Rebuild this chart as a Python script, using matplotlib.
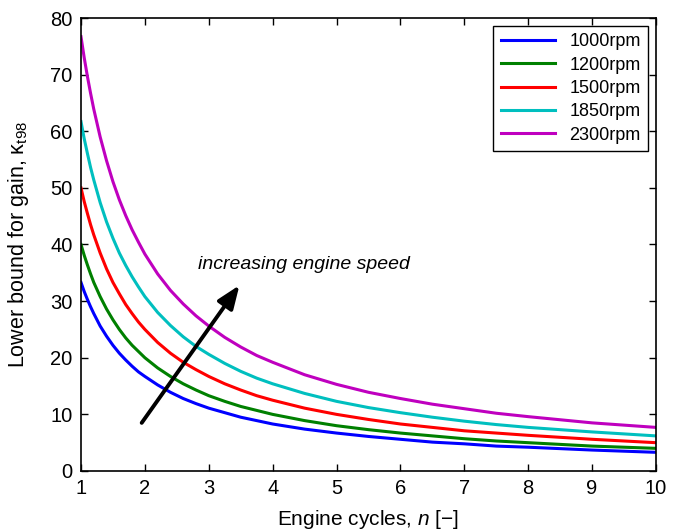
import numpy as np
import matplotlib
matplotlib.use("Agg")
import matplotlib.pyplot as plt

plt.rcParams['font.family'] = ['Liberation Sans', 'DejaVu Sans']
plt.rcParams['mathtext.fontset'] = 'custom'
plt.rcParams['mathtext.rm'] = 'Liberation Sans'
plt.rcParams['mathtext.it'] = 'Liberation Sans:italic'

# engine cycles n
n = [1, 1.05, 1.1, 1.15, 1.2, 1.3, 1.4, 1.5, 1.6, 1.7, 1.8, 1.9, 2, 2.2, 2.4,
     2.6, 2.8, 3, 3.25, 3.5, 3.75, 4, 4.5, 5, 5.5, 6, 6.5, 7, 7.5, 8, 9, 10]
k1000 = [33.3, 31.7, 30.3, 29.0, 27.8, 25.6, 23.8, 22.2, 20.8, 19.6, 18.5, 17.5,
         16.7, 15.2, 13.9, 12.8, 11.9, 11.1, 10.3, 9.5, 8.9, 8.3, 7.4, 6.7,
         6.1, 5.6, 5.1, 4.8, 4.4, 4.2, 3.7, 3.3]
k1200 = [40.0, 38.1, 36.4, 34.8, 33.3, 30.8, 28.6, 26.7, 25.0, 23.5, 22.2, 21.1,
         20.0, 18.2, 16.7, 15.4, 14.3, 13.3, 12.3, 11.4, 10.7, 10.0, 8.9, 8.0,
         7.3, 6.7, 6.2, 5.7, 5.3, 5.0, 4.4, 4.0]
k1500 = [50.0, 47.6, 45.5, 43.5, 41.7, 38.5, 35.7, 33.3, 31.3, 29.4, 27.8, 26.3,
         25.0, 22.7, 20.8, 19.2, 17.9, 16.7, 15.4, 14.3, 13.3, 12.5, 11.1, 10.0,
         9.1, 8.3, 7.7, 7.1, 6.7, 6.3, 5.6, 5.0]
k1850 = [61.7, 58.7, 56.1, 53.6, 51.4, 47.4, 44.0, 41.1, 38.5, 36.3, 34.3, 32.5,
         30.8, 28.0, 25.7, 23.7, 22.0, 20.6, 19.0, 17.6, 16.4, 15.4, 13.7, 12.3,
         11.2, 10.3, 9.5, 8.8, 8.2, 7.7, 6.9, 6.2]
k2300 = [76.7, 73.0, 69.7, 66.7, 63.9, 59.0, 54.8, 51.1, 47.9, 45.1, 42.6, 40.4,
         38.3, 34.8, 31.9, 29.5, 27.4, 25.6, 23.6, 21.9, 20.4, 19.2, 17.0, 15.3,
         13.9, 12.8, 11.8, 11.0, 10.2, 9.6, 8.5, 7.7]

labels = ['1000rpm', '1200rpm', '1500rpm', '1850rpm', '2300rpm']
colors = ['#0000ff', '#008000', '#ff0000', '#00bfbf', '#bf00bf']
series = [k1000, k1200, k1500, k1850, k2300]

fig = plt.figure(figsize=(6.82, 5.32), dpi=100)
ax = fig.add_axes([81/682, 61/532, 575/682, 453/532])

for ks, lab, c in zip(series, labels, colors):
    ax.plot(n, ks, color=c, lw=2.2, label=lab, solid_joinstyle='round')

ax.set_xlim(1, 10)
ax.set_ylim(0, 80)
ax.set_xticks(np.arange(1, 11))
ax.set_yticks(np.arange(0, 81, 10))
ax.tick_params(direction='in', top=True, right=True, length=5, width=1,
               labelsize=14.5, pad=6)
for s in ax.spines.values():
    s.set_linewidth(1.2)

ax.set_xlabel('Engine cycles, $n$ [\u2212]', fontsize=15)
ax.xaxis.set_label_coords(0.5, -0.082)
ax.set_ylabel('Lower bound for gain, \u03ba$_{\\mathrm{t98}}$', fontsize=15.5)
ax.yaxis.set_label_coords(-0.087, 0.5)

ax.annotate('', xy=(3.48, 32.8), xytext=(1.95, 8.5),
            arrowprops=dict(arrowstyle='-|>,head_length=1.4,head_width=0.55',
                            color='black', lw=2.8, shrinkA=0, shrinkB=0))
ax.text(2.83, 36.4, 'increasing engine speed', style='italic', fontsize=14,
        va='center', ha='left')

leg = ax.legend(loc='upper right', fontsize=13, handlelength=3.0,
                borderaxespad=0.45, fancybox=False, edgecolor='black',
                framealpha=1, labelspacing=0.35)
leg.get_frame().set_linewidth(1.0)

fig.savefig('out.png', dpi=100)
